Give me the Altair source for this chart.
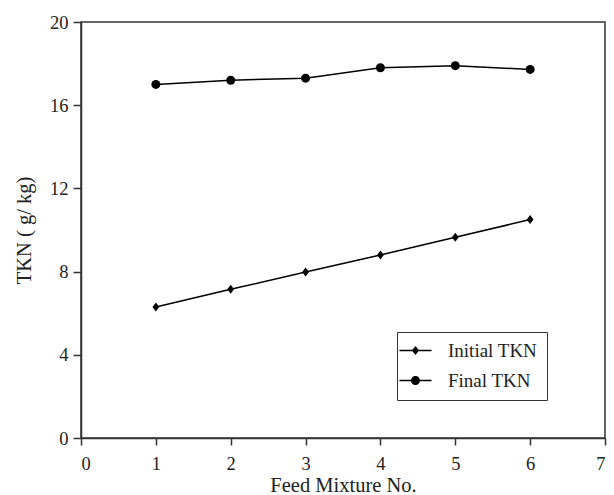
import altair as alt
import pandas as pd

feed_no = [1, 2, 3, 4, 5, 6]
initial_tkn = [6.3, 7.15, 7.98, 8.8, 9.65, 10.5]
final_tkn = [17.0, 17.2, 17.3, 17.8, 17.9, 17.72]
series_names = ["Initial TKN", "Final TKN"]
x_ticks = [0, 1, 2, 3, 4, 5, 6, 7]
y_ticks = [0, 4, 8, 12, 16, 20]

rows = []
for xv, yv in zip(feed_no, initial_tkn):
    rows.append({"feed": xv, "tkn": yv, "series": series_names[0]})
for xv, yv in zip(feed_no, final_tkn):
    rows.append({"feed": xv, "tkn": yv, "series": series_names[1]})
df = pd.DataFrame(rows)

FONT = "Liberation Serif"
INK = "#222222"

x_enc = alt.X("feed:Q", scale=alt.Scale(domain=[0, 7], nice=False),
              axis=alt.Axis(title="Feed Mixture No.", values=x_ticks, format="d",
                            tickSize=7, labelPadding=9, titlePadding=3))
y_enc = alt.Y("tkn:Q", scale=alt.Scale(domain=[0, 20], nice=False),
              axis=alt.Axis(title="TKN ( g/ kg)", values=y_ticks, format="d",
                            tickSize=8, labelPadding=5, titlePadding=15))

base = alt.Chart(df)

lines = base.mark_line(color="black", strokeWidth=1.5).encode(
    x=x_enc, y=y_enc, detail="series:N"
)

diamond = "M 0 -1 L 0.75 0 L 0 1 L -0.75 0 Z"
points = base.mark_point(filled=True, color="black", opacity=1, size=81).encode(
    x=x_enc, y=y_enc,
    shape=alt.Shape("series:N", scale=alt.Scale(domain=series_names, range=[diamond, "circle"]),
                    legend=None),
)

leg_initial = ("M -1.78 -0.08 L 1.78 -0.08 L 1.78 0.08 L -1.78 0.08 Z "
               "M 0 -0.5 L 0.4 0 L 0 0.5 L -0.4 0 Z")
leg_final = ("M -1.78 -0.08 L 1.78 -0.08 L 1.78 0.08 L -1.78 0.08 Z "
             "M -0.5 0 A 0.5 0.5 0 1 1 0.5 0 A 0.5 0.5 0 1 1 -0.5 0 Z")

legend_layer = base.transform_filter("false").mark_point(
    filled=True, color="black", opacity=1
).encode(
    x=x_enc, y=y_enc,
    shape=alt.Shape("series:N",
                    scale=alt.Scale(domain=series_names, range=[leg_initial, leg_final]),
                    legend=alt.Legend(title=None, orient="none", legendX=316, legendY=310,
                                      strokeColor="#333333", fillColor="white", padding=9,
                                      symbolSize=324, symbolFillColor="black",
                                      symbolStrokeWidth=0, symbolOpacity=1,
                                      labelFont=FONT, labelFontSize=19, labelColor=INK,
                                      labelOffset=23, rowPadding=10)),
)

chart = alt.layer(lines, points, legend_layer).resolve_scale(shape="independent").properties(
    width=524, height=416,
    background="white",
    autosize=alt.AutoSizeParams(type="none"),
    padding={"left": 81, "top": 22, "right": 9, "bottom": 57},
).configure_view(
    stroke="#333333", strokeWidth=1.5
).configure_axis(
    grid=False, domainColor="#333333", domainWidth=1.5, tickColor="#333333", tickWidth=1.5,
    labelFont=FONT, labelFontSize=18.5, labelColor=INK,
    titleFont=FONT, titleFontSize=20.5, titleFontWeight="normal", titleColor=INK,
)

chart.save("out.html", embed_options={"renderer": "svg", "actions": False})
